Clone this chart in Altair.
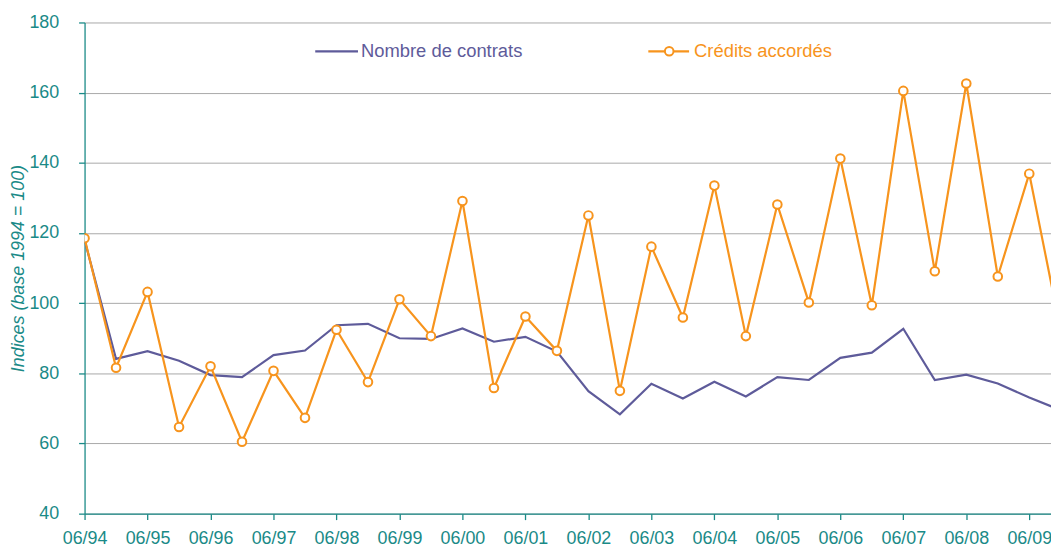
import json
import altair as alt
import pandas as pd

# ---- data ----
periods = ["06/94", "12/94", "06/95", "12/95", "06/96", "12/96", "06/97", "12/97",
           "06/98", "12/98", "06/99", "12/99", "06/00", "12/00", "06/01", "12/01",
           "06/02", "12/02", "06/03", "12/03", "06/04", "12/04", "06/05", "12/05",
           "06/06", "12/06", "06/07", "12/07", "06/08", "12/08", "06/09", "12/09"]
contrats = [118.0, 84.1, 86.3, 83.6, 79.5, 78.9, 85.2, 86.5,
            93.7, 94.1, 90.0, 89.8, 92.8, 89.0, 90.4, 86.2,
            74.9, 68.3, 77.0, 72.8, 77.6, 73.4, 78.9, 78.1,
            84.4, 85.9, 92.7, 78.1, 79.6, 77.1, 73.1, 69.5]
credits = [118.5, 81.6, 103.2, 64.7, 82.0, 60.5, 80.7, 67.3,
           92.4, 77.5, 101.1, 90.6, 129.1, 75.8, 96.2, 86.4,
           125.0, 75.0, 116.1, 95.9, 133.5, 90.6, 128.1, 100.2,
           141.2, 99.4, 160.5, 109.1, 162.6, 107.6, 136.9, 92.0]
tick_labels = ["06/94", "06/95", "06/96", "06/97", "06/98", "06/99", "06/00", "06/01",
               "06/02", "06/03", "06/04", "06/05", "06/06", "06/07", "06/08", "06/09"]
series_names = ["Nombre de contrats", "Crédits accordés"]
y_ticks = [40, 60, 80, 100, 120, 140, 160, 180]

PURPLE = "#5E5B9A"
ORANGE = "#F7941D"
TEAL = "#1A8A87"
GRID = "#A8A8A8"
FONT = "Liberation Sans"

df = pd.DataFrame({
    "t": list(range(len(periods))),
    "period": periods,
    "contrats": contrats,
    "credits": credits,
})

x_enc = alt.X(
    "t:Q",
    scale=alt.Scale(domain=[0, 30.69], nice=False, zero=False),
    axis=alt.Axis(
        values=[2 * i for i in range(len(tick_labels))],
        labelExpr=f"{json.dumps(tick_labels)}[round(datum.value / 2)]",
        title=None, grid=False,
        domainColor=TEAL, domainWidth=1.3, tickColor=TEAL, tickWidth=1.3, tickSize=6,
        labelColor=TEAL, labelFontSize=18, labelFont=FONT, labelPadding=10,
        labelFlush=False, labelOverlap=False,
    ),
)

y_axis = alt.Axis(
    values=y_ticks, grid=True, gridColor=GRID, gridWidth=1,
    domainColor=TEAL, domainWidth=1.3, tickColor=TEAL, tickWidth=1.3, tickSize=6,
    labelColor=TEAL, labelFontSize=18, labelFont=FONT, labelPadding=20,
    title="Indices (base 1994 = 100)", titleColor=TEAL, titleFont=FONT,
    titleFontSize=18, titleFontStyle="italic", titleFontWeight="normal", titlePadding=1,
)
y_scale = alt.Scale(domain=[40, 180], nice=False, zero=False)

base = alt.Chart(df)

line_contrats = base.mark_line(color=PURPLE, strokeWidth=2.2, clip=True).encode(
    x=x_enc, y=alt.Y("contrats:Q", scale=y_scale, axis=y_axis)
)
line_credits = base.mark_line(color=ORANGE, strokeWidth=2.2, clip=True).encode(
    x=x_enc, y=alt.Y("credits:Q", scale=y_scale)
)
pts_credits = base.mark_point(
    shape="circle", filled=True, fill="white", stroke=ORANGE, strokeWidth=2,
    size=75, opacity=1, clip=True
).encode(x=x_enc, y=alt.Y("credits:Q", scale=y_scale))

# ---- manual legend (inside plot, top) ----
leg1 = pd.DataFrame({"label": [series_names[0]]})
leg2 = pd.DataFrame({"label": [series_names[1]]})
leg_rule1 = alt.Chart(leg1).mark_rule(color=PURPLE, strokeWidth=2.2).encode(
    x=alt.value(232), x2=alt.value(275), y=alt.value(29))
leg_text1 = alt.Chart(leg1).mark_text(
    align="left", baseline="middle", fontSize=18.5, font=FONT, color=PURPLE
).encode(x=alt.value(278), y=alt.value(29), text="label:N")
leg_rule2 = alt.Chart(leg2).mark_rule(color=ORANGE, strokeWidth=2.2).encode(
    x=alt.value(567), x2=alt.value(608), y=alt.value(29))
leg_pt2 = alt.Chart(leg2).mark_point(
    shape="circle", filled=True, fill="white", stroke=ORANGE, strokeWidth=2, size=75, opacity=1
).encode(x=alt.value(588), y=alt.value(29))
leg_text2 = alt.Chart(leg2).mark_text(
    align="left", baseline="middle", fontSize=18.5, font=FONT, color=ORANGE
).encode(x=alt.value(613), y=alt.value(29), text="label:N")

chart = alt.layer(
    line_contrats, line_credits, pts_credits,
    leg_rule1, leg_text1, leg_rule2, leg_pt2, leg_text2,
).properties(
    width=972, height=494,
    padding={"left": 77, "top": 13, "right": 0, "bottom": 34},
    autosize=alt.AutoSizeParams(type="none"),
    background="white",
).configure_view(stroke=None)

chart.save("out.html", embed_options={"renderer": "svg", "actions": False})
